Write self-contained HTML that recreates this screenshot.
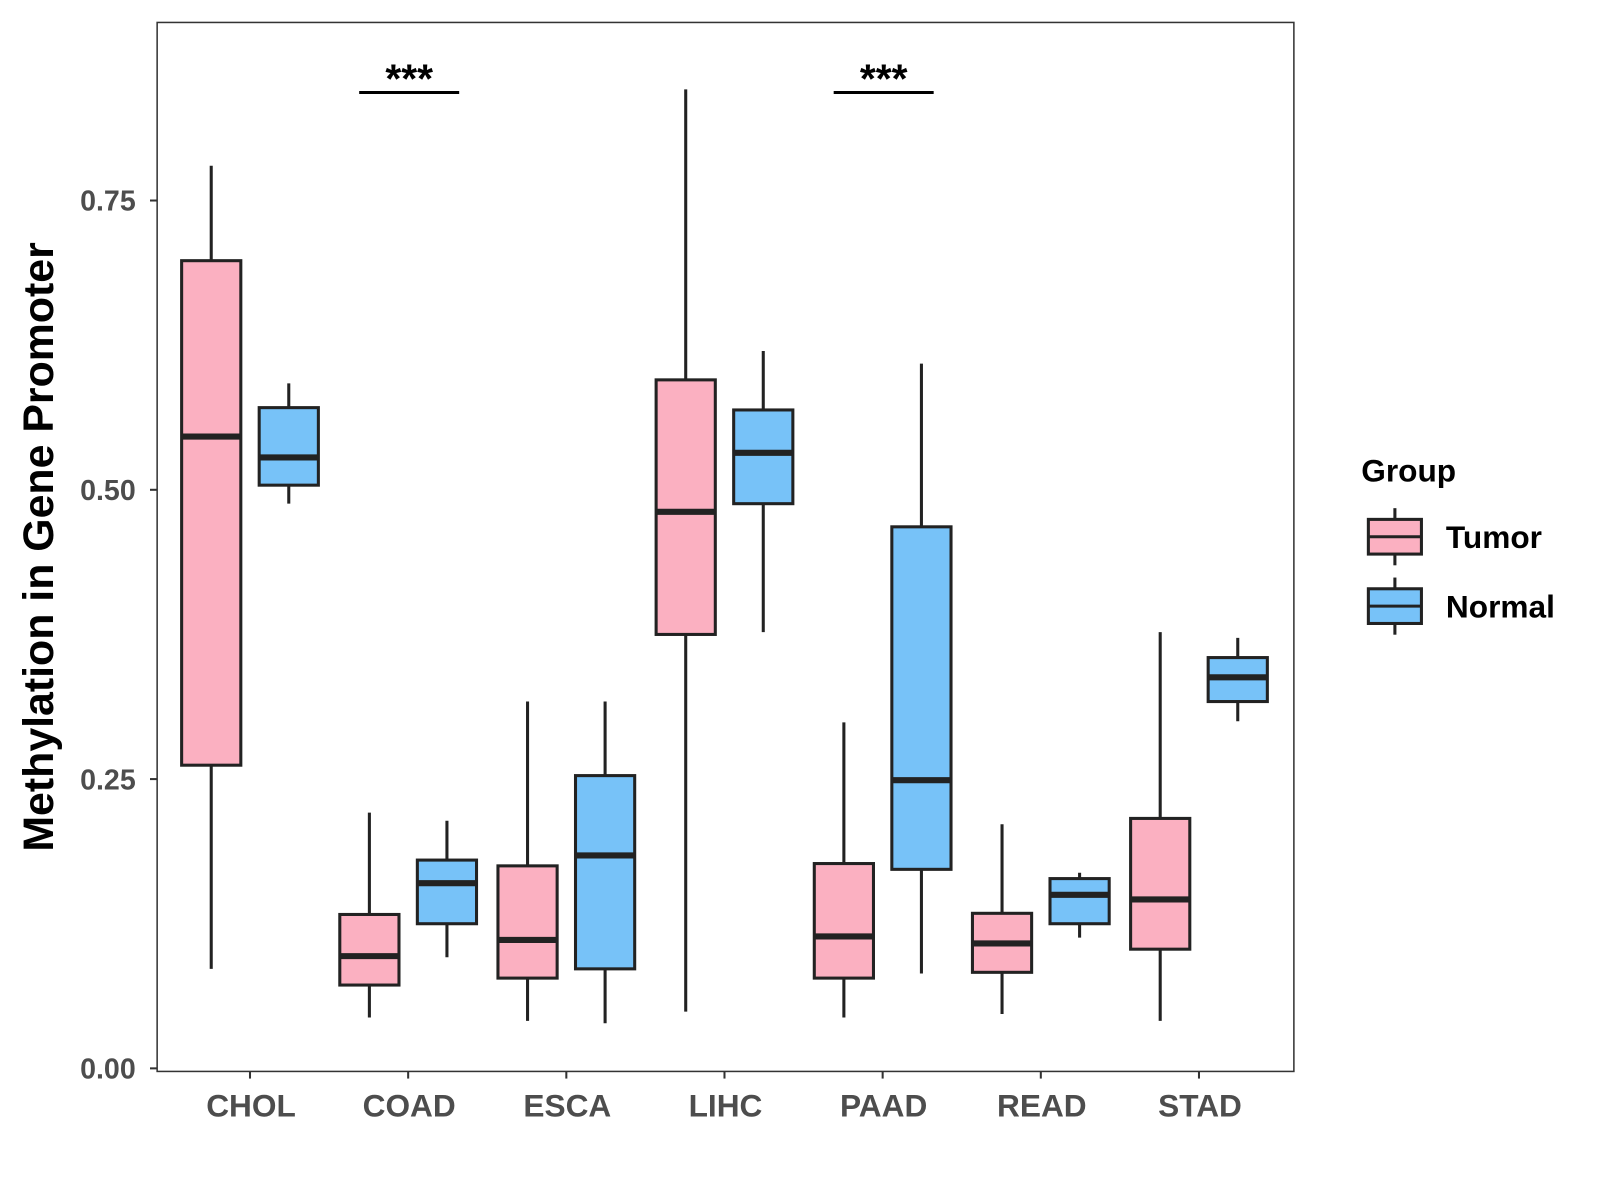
<!DOCTYPE html>
<html><head><meta charset="utf-8"><style>html,body{margin:0;padding:0;background:#fff}svg{display:block}</style></head>
<body>
<svg id="chart" width="1600" height="1200" viewBox="0 0 1568 1176" xmlns="http://www.w3.org/2000/svg" font-family="Liberation Sans, Arial, sans-serif"></svg>
<script>
const categories = ["CHOL","COAD","ESCA","LIHC","PAAD","READ","STAD"];
// [whiskerHigh, q3, median, q1, whiskerLow]
const tumorStats = [
  [0.780,0.698,0.546,0.262,0.086],
  [0.221,0.133,0.097,0.072,0.044],
  [0.317,0.175,0.111,0.078,0.041],
  [0.846,0.595,0.481,0.375,0.049],
  [0.299,0.177,0.114,0.078,0.044],
  [0.211,0.134,0.108,0.083,0.047],
  [0.377,0.216,0.146,0.103,0.041]
];
const normalStats = [
  [0.592,0.571,0.528,0.504,0.488],
  [0.214,0.180,0.160,0.125,0.096],
  [0.317,0.253,0.184,0.086,0.039],
  [0.620,0.569,0.532,0.488,0.377],
  [0.609,0.468,0.249,0.172,0.082],
  [0.169,0.164,0.150,0.125,0.113],
  [0.372,0.355,0.338,0.317,0.300]
];
const yTicks = [0,0.25,0.5,0.75];
const yTickLabels = ["0.00","0.25","0.50","0.75"];
const sigCategories = ["COAD","PAAD"];
const sigLabel = "***";
const sigLevel = 0.846;

const NS="http://www.w3.org/2000/svg";
const svg=document.getElementById('chart');
const y=v=>1047-1134*v;
const x=i=>245+155*i;
function mk(tag,attrs,parent){const e=document.createElementNS(NS,tag);for(const k in attrs)e.setAttribute(k,attrs[k]);(parent||svg).appendChild(e);return e;}

const panel=mk('rect',{x:154,y:22,width:1114,height:1028,fill:'#fff',stroke:'#333',"stroke-width":1.5});



yTicks.forEach((t,i)=>{
  const g=mk('g',{});
  
  
  mk('line',{x1:147,x2:154,y1:y(t),y2:y(t),stroke:'#333',"stroke-width":2},g);
  const tx=mk('text',{x:133,y:y(t)+10,"text-anchor":'end',"font-size":28,"font-weight":'bold',fill:'#4d4d4d'},g);
  tx.textContent=yTickLabels[i];
});
categories.forEach((c,i)=>{
  const g=mk('g',{});
  
  
  mk('line',{x1:x(i),x2:x(i),y1:1050,y2:1057,stroke:'#333',"stroke-width":2},g);
  const tx=mk('text',{x:x(i)+1,y:1094,"text-anchor":'middle',"font-size":31,"font-weight":'bold',fill:'#4d4d4d'},g);
  tx.textContent=c;
});

function box(cx,s,fill,name){
  const g=mk('g',{});
  
  
  const w=58;
  mk('line',{x1:cx,x2:cx,y1:y(s[0]),y2:y(s[4]),stroke:'#222',"stroke-width":3},g);
  mk('rect',{x:cx-w/2,y:y(s[1]),width:w,height:y(s[3])-y(s[1]),fill:fill,stroke:'#222',"stroke-width":3},g);
  mk('line',{x1:cx-w/2,x2:cx+w/2,y1:y(s[2]),y2:y(s[2]),stroke:'#222',"stroke-width":6},g);
}
categories.forEach((c,i)=>{
  box(x(i)-38,tumorStats[i],'#fbb0c1','box-tumor-'+c.toLowerCase());
  box(x(i)+38,normalStats[i],'#77c2f8','box-normal-'+c.toLowerCase());
});

sigCategories.forEach(c=>{
  const i=categories.indexOf(c);
  const g=mk('g',{});
  
  
  const yy=y(sigLevel)+3;
  mk('line',{x1:x(i)-48,x2:x(i)+50,y1:yy,y2:yy,stroke:'#000',"stroke-width":3},g);
  const t=mk('text',{x:x(i)+1,y:yy,"text-anchor":'middle',"font-size":40,"font-weight":'bold',fill:'#000'},g);
  t.textContent=sigLabel;
});

const yl=mk('text',{x:52,y:536,transform:'rotate(-90 52 536)',"text-anchor":'middle',"font-size":42,"font-weight":'bold',fill:'#000'});
yl.textContent='Methylation in Gene Promoter';



const lg=mk('g',{});


const lt=mk('text',{x:1334,y:472,"font-size":31,"font-weight":'bold',fill:'#000'},lg);
lt.textContent='Group';
[['Tumor','#fbb0c1',526],['Normal','#77c2f8',594]].forEach(([n,f,cy])=>{
  const e=mk('g',{},lg);
  
  
  mk('line',{x1:1367,x2:1367,y1:cy-28,y2:cy+28,stroke:'#222',"stroke-width":3},e);
  mk('rect',{x:1341,y:cy-17,width:52,height:34,fill:f,stroke:'#222',"stroke-width":3},e);
  mk('line',{x1:1341,x2:1393,y1:cy,y2:cy,stroke:'#222',"stroke-width":3},e);
  const t=mk('text',{x:1417,y:cy+11,"font-size":31,"font-weight":'bold',fill:'#000'},e);
  t.textContent=n;
});
</script>
</body></html>
